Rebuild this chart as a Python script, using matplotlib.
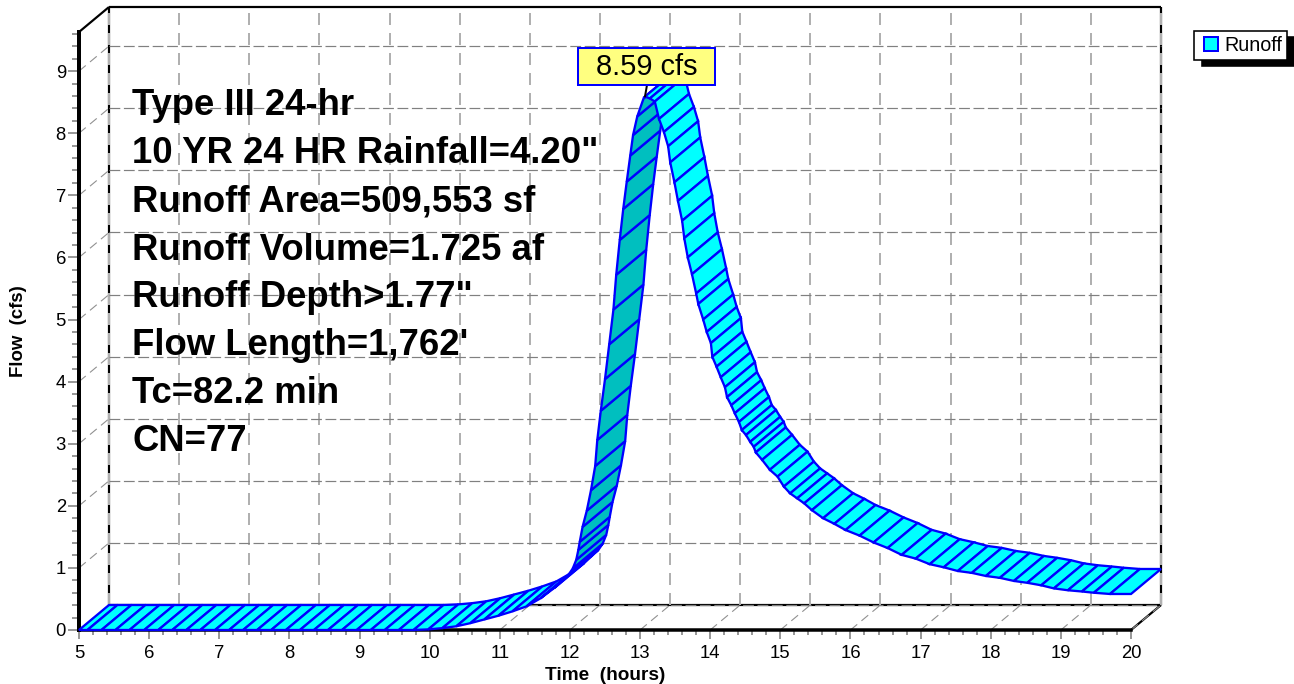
import matplotlib
matplotlib.use("Agg")
import matplotlib.pyplot as plt
from matplotlib.legend_handler import HandlerPatch
from matplotlib.patches import Patch, Rectangle
from matplotlib.ticker import MultipleLocator

# hydrograph, one entry per ribbon segment
time_hr = [5.0, 5.12, 5.32, 5.52, 5.72, 5.93, 6.13, 6.33, 6.53, 6.73, 6.94, 7.14, 7.34, 7.54, 7.74, 7.95,
           8.15, 8.35, 8.55, 8.75, 8.96, 9.16, 9.36, 9.56, 9.77, 9.98,
           10.18, 10.38, 10.58, 10.78, 10.98, 11.18, 11.38, 11.58, 11.78, 11.98,
           12.04, 12.09, 12.12, 12.14, 12.18, 12.24, 12.30, 12.36, 12.39, 12.44, 12.5, 12.56, 12.62, 12.66,
           12.71, 12.76, 12.81, 12.86, 12.9, 12.96, 13.05, 13.07, 13.14, 13.21, 13.27, 13.34, 13.40, 13.43,
           13.49, 13.54, 13.6, 13.63, 13.68, 13.74, 13.8, 13.83, 13.9, 13.95, 14.01, 14.03, 14.09, 14.15,
           14.21, 14.24, 14.3, 14.35, 14.41, 14.45, 14.51, 14.57, 14.62, 14.65, 14.74, 14.85, 14.96, 15.05,
           15.14, 15.24, 15.34, 15.45, 15.61, 15.77, 15.93, 16.13, 16.33, 16.53, 16.73, 16.93, 17.13, 17.33,
           17.53, 17.73, 17.93, 18.13, 18.33, 18.52, 18.72, 18.9, 19.1, 19.3, 19.47, 19.7, 20.0]
flow_cfs = [0.0, 0.0, 0.0, 0.0, 0.0, 0.0, 0.0, 0.0, 0.0, 0.0, 0.0, 0.0, 0.0, 0.0, 0.0, 0.0,
            0.0, 0.0, 0.0, 0.0, 0.0, 0.0, 0.0, 0.0, 0.0, 0.01,
            0.03, 0.06, 0.11, 0.17, 0.23, 0.30, 0.38, 0.51, 0.68, 0.89,
            0.99, 1.13, 1.29, 1.42, 1.66, 1.92, 2.25, 2.64, 3.06, 3.53, 4.04, 4.6, 5.16, 5.72,
            6.28, 6.78, 7.22, 7.64, 7.97, 8.27, 8.56, 8.59, 8.56, 8.51, 8.23, 8.02, 7.79, 7.53,
            7.21, 6.91, 6.59, 6.31, 6.0, 5.73, 5.42, 5.25, 5.0, 4.8, 4.62, 4.40, 4.24, 4.07,
            3.91, 3.75, 3.62, 3.49, 3.35, 3.22, 3.14, 3.03, 2.95, 2.86, 2.74, 2.58, 2.47, 2.31,
            2.2, 2.12, 2.04, 1.93, 1.8, 1.71, 1.61, 1.52, 1.41, 1.32, 1.21, 1.15, 1.06, 1.01,
            0.95, 0.92, 0.87, 0.84, 0.79, 0.76, 0.72, 0.67, 0.64, 0.62, 0.60, 0.58, 0.58]
info_lines = ['Type III 24-hr', '10 YR 24 HR Rainfall=4.20"', 'Runoff Area=509,553 sf',
              'Runoff Volume=1.725 af', 'Runoff Depth>1.77"', "Flow Length=1,762'",
              'Tc=82.2 min', 'CN=77']
peak_label = '8.59 cfs'
series_name = 'Runoff'
x_ticks = list(range(5, 21))
y_ticks = list(range(0, 10))

W, H, DPI = 1294, 684, 84
PX = 72 / DPI
BLUE = '#0000ff'
plt.rcParams['font.family'] = ['Liberation Sans', 'DejaVu Sans']

fig = plt.figure(figsize=(W / DPI, H / DPI), dpi=DPI)
ax = fig.add_axes([79 / W, 1 - 630 / H, (1131 - 79) / W, (630 - 32) / H])
ax.patch.set_visible(False)
xmax, ymax = 20.0, 9.63
ax.set_xlim(5, xmax)
ax.set_ylim(0, ymax)

# 3d depth of the chart: 30 px right, 25 px up
dx = 30 / (1052 / 15)
dy = 25 / (598 / ymax)


def line(xs, ys, **kw):
    ax.plot(xs, ys, clip_on=False, solid_capstyle='butt', **kw)


# walls
wall = dict(color='black', lw=2.2 * PX, zorder=1)
line([5 + dx, 5 + dx], [dy, ymax + dy], **wall)
line([5 + dx, xmax + dx], [ymax + dy, ymax + dy], **wall)
line([xmax + dx, xmax + dx], [dy, ymax + dy], **wall)
line([5 + dx, xmax + dx], [dy, dy], **wall)
line([5, 5 + dx], [ymax, ymax + dy], **wall)
line([xmax, xmax + dx], [0, dy], **wall)

# grid on the back wall, side wall and floor
for t in x_ticks:
    line([t + dx, t + dx], [dy, ymax + dy], color='#b0b0b0', lw=2 * PX, ls=(0, (6, 4)), zorder=2)
    line([t, t + dx], [0, dy], color='#909090', lw=1.1 * PX, ls=(0, (8, 5)), zorder=2)
for v in y_ticks:
    line([5 + dx, xmax + dx], [v + dy, v + dy], color='#808080', lw=1.2 * PX, ls=(0, (9, 3)), zorder=2)
    line([5, 5 + dx], [v, v + dy], color='#909090', lw=1.1 * PX, ls=(0, (8, 5)), zorder=2)

# ribbon, one quad per segment, underside darker where the curve climbs steeply
z = 3
for i in range(len(time_hr) - 1):
    t0, t1 = time_hr[i], time_hr[i + 1]
    f0, f1 = flow_cfs[i], flow_cfs[i + 1]
    steep = (f1 - f0) / dy > (t1 - t0) / dx
    ax.fill([t0, t1, t1 + dx, t0 + dx], [f0, f1, f1 + dy, f0 + dy],
            facecolor='#00bfbf' if steep else '#00ffff', edgecolor=BLUE,
            linewidth=2.3 * PX, clip_on=False, zorder=z)
    z += 1

# peak label
peak_i = flow_cfs.index(max(flow_cfs))
ax.annotate('', xy=(time_hr[peak_i], flow_cfs[peak_i]), xytext=(647, H - 85), textcoords='figure pixels',
            arrowprops=dict(arrowstyle='-', color='black', lw=2 * PX, shrinkA=0, shrinkB=0), zorder=z)
ax.add_patch(Rectangle((578 / W, 1 - 85 / H), 137 / W, 37 / H, transform=fig.transFigure, facecolor='#ffff80',
                       edgecolor=BLUE, linewidth=2 * PX, clip_on=False, zorder=z + 1))
ax.text(647 / W, 1 - 67 / H, peak_label, transform=fig.transFigure, ha='center', va='center',
        fontsize=29 * PX, zorder=z + 2)

# spines and ticks
for s in ['top', 'right']:
    ax.spines[s].set_visible(False)
ax.spines['left'].set_linewidth(4 * PX)
ax.spines['bottom'].set_linewidth(3.5 * PX)
ax.spines['left'].set_zorder(2.5)
ax.spines['bottom'].set_zorder(2.5)
ax.set_xticks(x_ticks)
ax.set_yticks(y_ticks)
ax.xaxis.set_minor_locator(MultipleLocator(0.2))
ax.yaxis.set_minor_locator(MultipleLocator(0.2))
ax.tick_params(axis='x', which='major', length=9 * PX, width=1.6 * PX, color='#808080', labelsize=18.5 * PX, pad=5.5 * PX)
ax.tick_params(axis='x', which='minor', length=5 * PX, width=1.6 * PX, color='#808080')
ax.tick_params(axis='y', which='major', length=11 * PX, width=1.6 * PX, color='#808080', labelsize=18.5 * PX, pad=2 * PX)
ax.tick_params(axis='y', which='minor', length=7 * PX, width=1.6 * PX, color='#808080')

fig.text(19 / W, 1 - 331 / H, 'Flow  (cfs)', rotation=90, ha='center', va='center', fontsize=18.7 * PX, fontweight='bold')
fig.text(605 / W, 1 - 676 / H, 'Time  (hours)', ha='center', va='center', fontsize=19 * PX, fontweight='bold')

# text block
baselines = [115, 163, 212, 260, 307, 355, 403, 451]
for txt, y in zip(info_lines, baselines):
    fig.text(132 / W, 1 - y / H, txt, ha='left', va='baseline', fontsize=36.5 * PX, fontweight='bold', zorder=20)

# legend
handle = Patch(facecolor='#00ffff', edgecolor=BLUE, linewidth=2 * PX, label=series_name)
leg = fig.legend(handles=[handle], loc='upper left', bbox_to_anchor=(1194 / W, 1 - 31 / H), borderaxespad=0,
                 frameon=True, fancybox=False, edgecolor='black', framealpha=1, fontsize=19.7 * PX,
                 handlelength=0.965, handleheight=0.75, handletextpad=0.3, borderpad=0.26,
                 handler_map={Patch: HandlerPatch(xpad=0.254)},
                 shadow={'ox': 8 * PX, 'oy': -6 * PX, 'facecolor': 'black', 'edgecolor': 'black', 'alpha': 1})
leg.get_frame().set_linewidth(1.6 * PX)

fig.savefig('out.png', dpi=DPI)
